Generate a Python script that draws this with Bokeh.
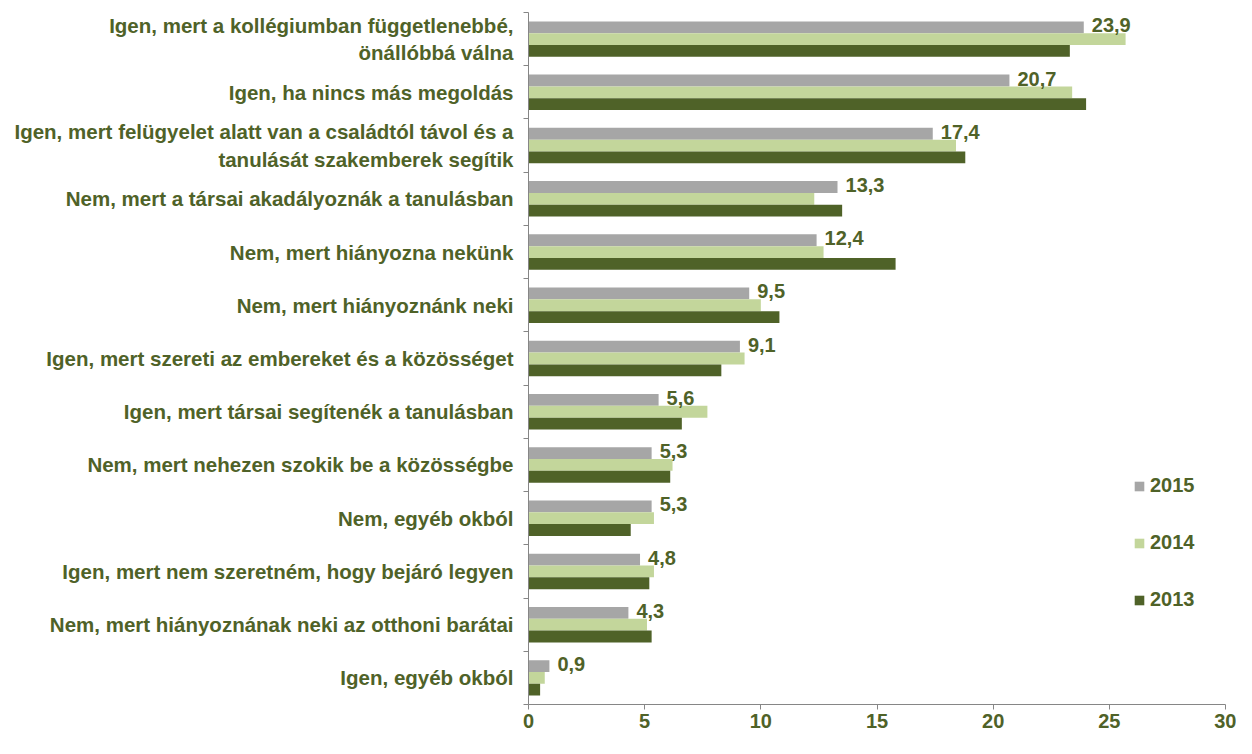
from bokeh.plotting import figure
from bokeh.models import (FactorRange, Range1d, LinearAxis, CategoricalAxis, FixedTicker,
                          Legend, LegendItem, ColumnDataSource)
from bokeh.transform import dodge
from bokeh.core.properties import value
from bokeh.embed import file_html
from bokeh.resources import INLINE

categories = [
    "Igen, mert a kollégiumban függetlenebbé,\nönállóbbá válna",
    "Igen, ha nincs más megoldás",
    "Igen, mert felügyelet alatt van a családtól távol és a\ntanulását szakemberek segítik",
    "Nem, mert a társai akadályoznák a tanulásban",
    "Nem, mert hiányozna nekünk",
    "Nem, mert hiányoznánk neki",
    "Igen, mert szereti az embereket és a közösséget",
    "Igen, mert társai segítenék a tanulásban",
    "Nem, mert nehezen szokik be a közösségbe",
    "Nem, egyéb okból",
    "Igen, mert nem szeretném, hogy bejáró legyen",
    "Nem, mert hiányoznának neki az otthoni barátai",
    "Igen, egyéb okból",
]
v2015 = [23.9, 20.7, 17.4, 13.3, 12.4, 9.5, 9.1, 5.6, 5.3, 5.3, 4.8, 4.3, 0.9]
v2014 = [25.7, 23.4, 18.4, 12.3, 12.7, 10.0, 9.3, 7.7, 6.2, 5.4, 5.4, 5.1, 0.7]
v2013 = [23.3, 24.0, 18.8, 13.5, 15.8, 10.8, 8.3, 6.6, 6.1, 4.4, 5.2, 5.3, 0.5]
series_names = ["2015", "2014", "2013"]
x_ticks = [0, 5, 10, 15, 20, 25, 30]

FONT = "Liberation Sans"
TXT = "#4F6228"
COLORS = {"2015": "#A6A6A6", "2014": "#C3D69B", "2013": "#4F6228"}

src = ColumnDataSource(dict(
    cat=categories, v2015=v2015, v2014=v2014, v2013=v2013,
    lbl=[f"{v:.1f}".replace(".", ",") for v in v2015],
))

p = figure(
    y_range=FactorRange(factors=categories[::-1], range_padding=0),
    x_range=Range1d(0, 30),
    frame_width=697, frame_height=692,
    min_border_left=528, min_border_right=11, min_border_top=12, min_border_bottom=34,
    output_backend="svg", toolbar_location=None,
    x_axis_location=None, y_axis_location=None,
)
p.outline_line_color = None
p.xgrid.grid_line_color = None
p.ygrid.grid_line_color = None

bh = 0.222
offsets = {"2015": bh, "2014": 0.0, "2013": -bh}
renderers = {}
for name in series_names:
    renderers[name] = p.hbar(
        y=dodge("cat", offsets[name], range=p.y_range), right="v" + name, left=0,
        height=bh, source=src, fill_color=COLORS[name], line_color=None,
    )

p.text(x="v2015", y=dodge("cat", offsets["2015"], range=p.y_range), text="lbl", source=src,
       x_offset=8, y_offset=-2, text_baseline="middle", text_align="left",
       text_font=value(FONT), text_font_style="bold", text_font_size="20px", text_color=TXT)

xa = LinearAxis(ticker=FixedTicker(ticks=x_ticks))
xa.axis_line_color = "#868686"
xa.major_tick_line_color = "#868686"
xa.major_tick_out = 5
xa.major_tick_in = 0
xa.minor_tick_line_color = None
xa.major_label_standoff = 4
xa.major_label_text_font = FONT
xa.major_label_text_font_style = "bold"
xa.major_label_text_font_size = "20px"
xa.major_label_text_color = TXT
p.add_layout(xa, "below")

ya_ticks = LinearAxis(ticker=FixedTicker(ticks=list(range(len(categories) + 1))))
ya_ticks.axis_line_color = "#868686"
ya_ticks.major_tick_line_color = "#868686"
ya_ticks.major_tick_out = 5
ya_ticks.major_tick_in = 0
ya_ticks.minor_tick_line_color = None
ya_ticks.major_label_text_font_size = "0px"
ya_ticks.major_label_text_color = None
ya_ticks.major_label_standoff = 0
p.add_layout(ya_ticks, "left")

ya = CategoricalAxis()
ya.axis_line_color = None
ya.major_tick_line_color = None
ya.major_tick_out = 0
ya.major_tick_in = 0
ya.major_label_standoff = 10
ya.major_label_text_font = FONT
ya.major_label_text_font_style = "bold"
ya.major_label_text_font_size = "20.5px"
ya.major_label_text_color = TXT
p.add_layout(ya, "left")

legend = Legend(items=[LegendItem(label=n, renderers=[renderers[n]]) for n in series_names],
                location=(605, 93))
legend.border_line_color = None
legend.background_fill_alpha = 0
legend.padding = 0
legend.margin = 0
legend.spacing = 34
legend.glyph_width = 12
legend.glyph_height = 12
legend.label_height = 20
legend.label_standoff = 5
legend.label_text_font = FONT
legend.label_text_font_style = "bold"
legend.label_text_font_size = "20px"
legend.label_text_color = TXT
p.add_layout(legend, "center")

open("out.html", "w").write(file_html(p, INLINE))
